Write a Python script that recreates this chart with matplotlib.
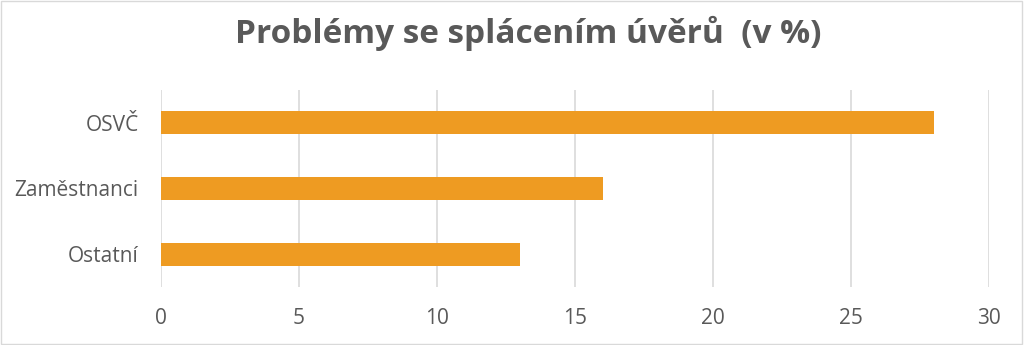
import matplotlib
matplotlib.use('Agg')
import matplotlib.pyplot as plt
from matplotlib.patches import Rectangle

# Data
categories = ['Ostatní', 'Zaměstnanci', 'OSVČ']
values = [13, 16, 28]
xticks = [0, 5, 10, 15, 20, 25, 30]

plt.rcParams['font.family'] = ['Open Sans', 'DejaVu Sans']

fig = plt.figure(figsize=(10.24, 3.45), dpi=100)
ax = fig.add_axes([161 / 1024, 1 - 287 / 345, 828 / 1024, 197 / 345])

ax.barh(range(len(categories)), values, height=0.35, color='#EE9B22', zorder=3)

ax.set_xlim(0, 30)
ax.set_ylim(-0.5, len(categories) - 0.5)
ax.set_xticks(xticks)
ax.set_yticks(range(len(categories)))
ax.set_yticklabels(categories)
ax.grid(axis='x', color='#D9D9D9', linewidth=1.2, zorder=0)
ax.tick_params(axis='both', length=0, labelsize=15, colors='#595959')
ax.tick_params(axis='x', pad=15)
ax.tick_params(axis='y', pad=16)
for s in ax.spines.values():
    s.set_visible(False)

fig.text(528 / 1024, 1 - 33 / 345, 'Problémy se splácením úvěrů  (v %)', ha='center', va='center',
         fontsize=24, fontweight='bold', color='#595959')

# light border round the chart
fig.patches.append(Rectangle((0.001, 0.002), 0.997, 0.995, transform=fig.transFigure,
                             fill=False, edgecolor='#D9D9D9', linewidth=1))

fig.savefig('out.png', dpi=100)
